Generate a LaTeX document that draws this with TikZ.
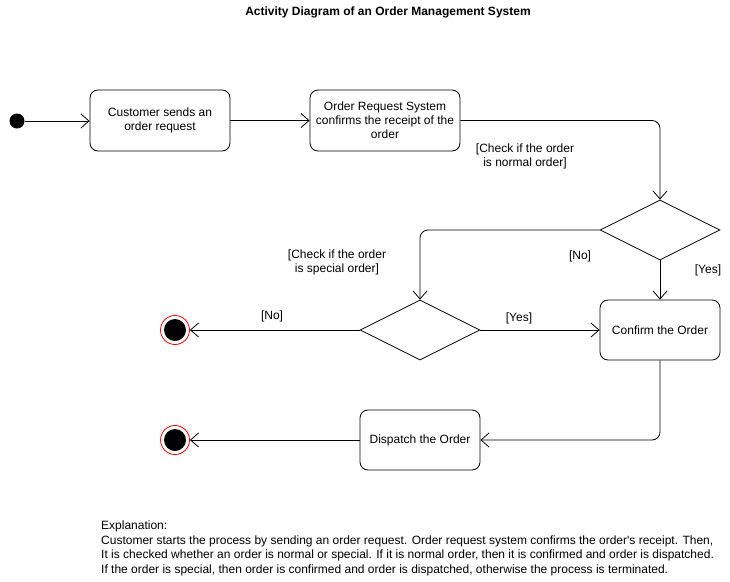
\documentclass[tikz,border=0pt]{standalone}
\usepackage{fontspec}
\setmainfont{Liberation Sans}
\usetikzlibrary{arrows.meta, positioning, shapes.geometric}
\tikzset{
  act/.style={rectangle, draw, line width=0.8pt, rounded corners=8pt, align=center, inner sep=2pt},
  dec/.style={diamond, draw, line width=0.8pt, aspect=2, minimum width=120pt, minimum height=60pt, inner sep=0pt},
  flow/.style={-{Straight Barb[length=8pt, width=14pt, line width=0.8pt]}, line width=0.8pt},
  glab/.style={align=center, inner sep=1pt},
  init/.style={circle, fill=black, minimum size=15pt, inner sep=0pt},
  fin/.style={circle, draw=red, fill=white, line width=0.8pt, minimum size=29pt, inner sep=0pt,
    path picture={\fill[black] (path picture bounding box.center) circle (11pt);}}
}
\begin{document}
\begin{tikzpicture}[x=1pt, y=-1pt, font=\fontsize{12}{14}\selectfont]
		\useasboundingbox (0,0) rectangle (730,581);
		\node[font=\fontsize{12}{14}\selectfont\bfseries] (title) at (388,12) {Activity Diagram of an Order Management System};
		% states
		\node[init] (start) at (17,121) {};
		\node[act, minimum width=140pt, minimum height=61pt] (send) at (160,120.5) {Customer sends an\\order request};
		\node[act, minimum width=150pt, minimum height=61pt] (recv) at (385,120.5) {Order Request System\\confirms the receipt of the\\order};
		\node[dec] (normal) at (660,230) {};
		\node[dec] (special) at (420,330) {};
		\node[act, minimum width=120pt, minimum height=60pt] (conf) at (660,330) {Confirm the Order};
		\node[act, minimum width=120pt, minimum height=60pt] (disp) at (420,440) {Dispatch the Order};
		\node[fin] (end1) at (175,330) {};
		\node[fin] (end2) at (175,440) {};
		% transitions
		\draw[flow] (start) -- (start -| send.west);
		\draw[flow] (send) -- (recv);
		\draw[flow, rounded corners=8pt] (recv.east) -| (normal.north);
		\draw[flow, rounded corners=8pt] (normal.west) -| (special.north);
		\draw[flow] (normal.south) -- (conf.north);
		\draw[flow] (special.east) -- (conf.west);
		\draw[flow] (special.west) -- (end1);
		\draw[flow, rounded corners=8pt] (conf.south) |- (disp.east);
		\draw[flow] (disp.west) -- (end2);
		% guards
		\node[glab] (gnormal) at (525,156) {[Check if the order\\is normal order]};
		\node[glab] (gno1) at (580,256) {[No]};
		\node[glab] (gyes1) at (708,270) {[Yes]};
		\node[glab] (gspecial) at (337,262) {[Check if the order\\is special order]};
		\node[glab] (gno2) at (272,316) {[No]};
		\node[glab] (gyes2) at (519,318) {[Yes]};
		\node[anchor=north west, align=left, inner sep=0pt, font=\fontsize{12}{14.5}\selectfont] (expl) at (101,521) {Explanation:\\
			Customer starts the process by sending an order request. Order request system confirms the order\textquotesingle s receipt. Then,\\
			It is checked whether an order is normal or special. If it is normal order, then it is confirmed and order is dispatched.\\
			If the order is special, then order is confirmed and order is dispatched, otherwise the process is terminated.};
	\end{tikzpicture}
\end{document}
